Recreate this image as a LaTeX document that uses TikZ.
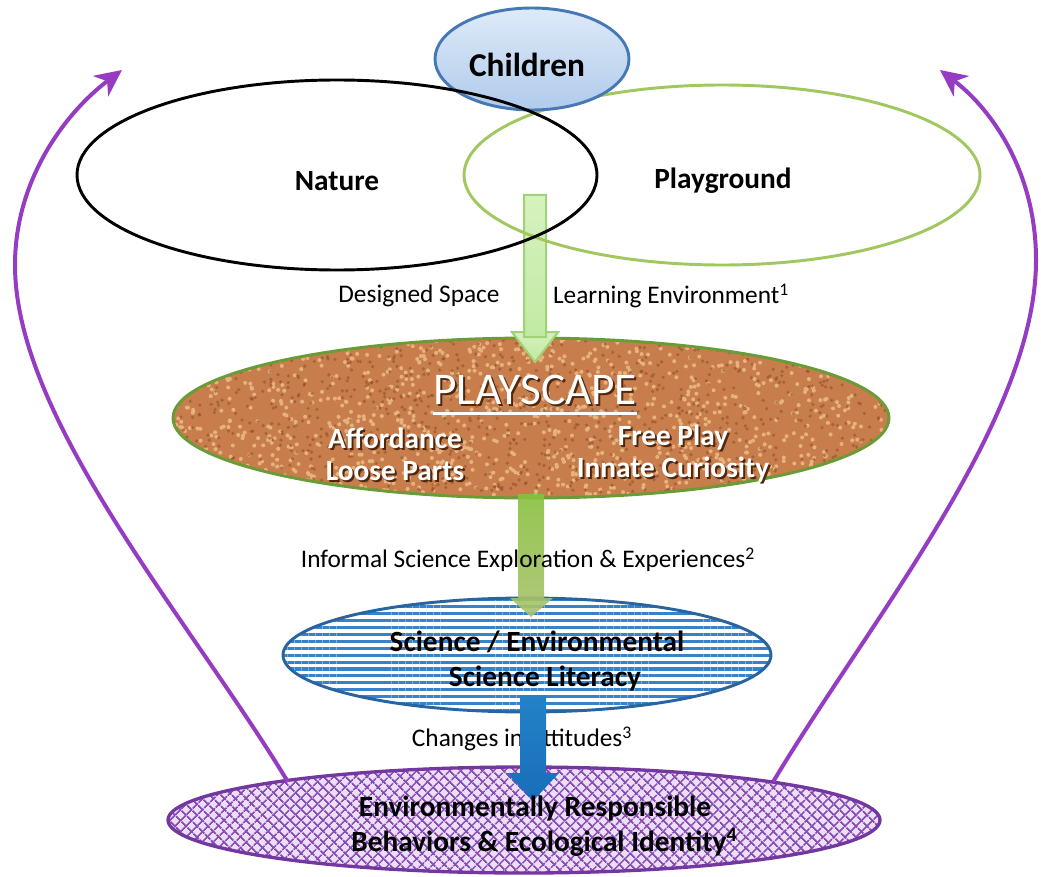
\documentclass[tikz,border=0pt]{standalone}
\usepackage{fontspec}
\setmainfont{Carlito}
\usetikzlibrary{patterns.meta,arrows.meta,calc}

\definecolor{kidtop}{RGB}{222,234,248}
\definecolor{kidbot}{RGB}{176,203,236}
\definecolor{kidborder}{RGB}{70,120,180}
\definecolor{pgreen}{RGB}{160,200,95}
\definecolor{brownfill}{RGB}{200,126,76}
\definecolor{brownlight}{RGB}{232,178,126}
\definecolor{browndark}{RGB}{140,76,38}
\definecolor{psborder}{RGB}{105,155,55}
\definecolor{sciblue}{RGB}{55,130,200}
\definecolor{sciborder}{RGB}{40,100,160}
\definecolor{purp}{RGB}{150,60,195}
\definecolor{purpline}{RGB}{135,75,180}
\definecolor{purpfill}{RGB}{236,222,246}
\definecolor{purpborder}{RGB}{115,55,160}
\definecolor{lgtop}{RGB}{214,242,190}
\definecolor{lgbot}{RGB}{190,232,160}
\definecolor{lgborder}{RGB}{160,210,120}
\definecolor{argtop}{RGB}{135,192,60}
\definecolor{argbot}{RGB}{170,195,110}
\definecolor{arbtop}{RGB}{35,130,200}
\definecolor{arbbot}{RGB}{25,110,185}
\definecolor{shadowbrown}{RGB}{80,40,15}

\tikzset{
  lbl/.style={inner sep=0pt, font=\fontsize{19}{23}\selectfont, text=black},
  blbl/.style={inner sep=0pt, font=\bfseries\fontsize{22}{26}\selectfont, text=black, align=center},
  wlbl/.style={inner sep=0pt, font=\bfseries\fontsize{22}{24}\selectfont, text=white, align=center},
  slbl/.style={inner sep=0pt, font=\bfseries\fontsize{22}{24}\selectfont, text=shadowbrown, align=center},
  purparrow/.style={draw=purp, line width=3pt, -{Stealth[length=20pt, width=19pt, inset=6pt]}},
}

\begin{document}
\begin{tikzpicture}[x=0.75pt,y=-0.75pt]
\path[use as bounding box, fill=white] (0,0) rectangle (1041,877);

% ---------- light green arrow (under the outlines)
\shade[top color=lgtop, bottom color=lgbot, draw=lgborder, line width=1.5]
  (524,195) -- (546,195) -- (546,332) -- (558,332) -- (535,362) -- (512,332) -- (524,332) -- cycle;

% ---------- top ellipses
\draw[pgreen, line width=2.2] (722,175) ellipse [x radius=258, y radius=90];
\shade[top color=kidtop, bottom color=kidbot, draw=kidborder, line width=2.2]
  (532,59) ellipse [x radius=97, y radius=51];
\draw[black, line width=2.2] (337,175) ellipse [x radius=260, y radius=95];

\node[blbl, font=\bfseries\fontsize{25}{28}\selectfont] (children) at (527,65) {Children};
\node[blbl] (nature) at (337,181) {Nature};
\node[blbl] (playground) at (723,181) {Playground};

\node[lbl] (designed) at (419,296) {Designed Space};
\node[lbl] (learning) at (671,296) {Learning Environment\textsuperscript{1}};

% ---------- playscape ellipse with texture
\begin{scope}
  \clip (531,418) ellipse [x radius=358, y radius=80];
  \fill[brownfill] (170,335) rectangle (892,500);
  \pgfmathsetseed{7}
  \foreach \i in {1,...,1100}{
    \pgfmathsetmacro{\px}{173+716*rnd}
    \pgfmathsetmacro{\py}{338+162*rnd}
    \fill[brownlight] (\px,\py) circle[radius=2];
  }
  \foreach \i in {1,...,1000}{
    \pgfmathsetmacro{\px}{173+716*rnd}
    \pgfmathsetmacro{\py}{338+162*rnd}
    \fill[browndark, opacity=0.55] (\px,\py) circle[radius=1.8];
  }
\end{scope}
\draw[psborder, line width=2.2] (531,418) ellipse [x radius=358, y radius=80];

% light green arrow tip shows over the playscape
\shade[top color=lgtop, bottom color=lgbot, draw=lgborder, line width=1.5]
  (524,337) -- (546,337) -- (546,332) -- (558,332) -- (535,362) -- (512,332) -- (524,332) -- cycle;

% playscape texts (shadow + white)
\node[inner sep=0pt, font=\fontsize{34}{38}\selectfont, text=shadowbrown] (titlesh) at (537,392) {PLAYSCAPE};
\node[inner sep=0pt, font=\fontsize{34}{38}\selectfont, text=white] (title) at (535,390) {PLAYSCAPE};
\draw[white, line width=2.2] ([yshift=-7pt]title.base west) -- ([yshift=-7pt]title.base east);

\node[slbl] (affsh) at (397,456) {Affordance\\Loose Parts};
\node[wlbl] (aff) at (395,454) {Affordance\\Loose Parts};
\node[slbl] (freesh) at (675,456) {Free Play\\Innate Curiosity};
\node[wlbl] (free) at (673,454) {Free Play\\Innate Curiosity};

% ---------- science ellipse
\fill[white] (527,655) ellipse [x radius=244, y radius=57];
\fill[pattern={Lines[angle=0, distance=5.2pt, line width=2.3pt]}, pattern color=sciblue]
  (527,655) ellipse [x radius=244, y radius=57];
\draw[sciborder, line width=2.2] (527,655) ellipse [x radius=244, y radius=57];

% ---------- green arrow
\shade[top color=argtop, bottom color=argbot, fill opacity=0.9]
  (518,494) -- (544,494) -- (544,598) -- (553,598) -- (531,617) -- (510,598) -- (518,598) -- cycle;
\node[lbl] (informal) at (528,560) {Informal Science Exploration \& Experiences\textsuperscript{2}};

\node[blbl, align=center] (science) at (537,661) {Science / Environmental\\[0pt]\hspace*{12pt}Science Literacy};

% ---------- bottom ellipse
\fill[purpfill] (524,820) ellipse [x radius=356, y radius=53];
\fill[pattern={Lines[angle=45, distance=6.5pt, line width=1.5pt]}, pattern color=purpline]
  (524,820) ellipse [x radius=356, y radius=53];
\fill[pattern={Lines[angle=-45, distance=6.5pt, line width=1.5pt]}, pattern color=purpline]
  (524,820) ellipse [x radius=356, y radius=53];
\draw[purpborder, line width=2.5] (524,820) ellipse [x radius=356, y radius=53];

\node[lbl] (changes) at (522,739) {Changes in Attitudes\textsuperscript{3}};

% ---------- blue arrow
\shade[top color=arbtop, bottom color=arbbot]
  (520,695) -- (546,695) -- (546,773) -- (559,773) -- (533,801) -- (507,773) -- (520,773) -- cycle;

\node[blbl] (behav) at (535,826) {Environmentally Responsible\\[0pt]\hspace*{14pt}Behaviors \& Ecological Identity\textsuperscript{4}};

% ---------- purple feedback arrows
\coordinate (lstart) at (288,782);
\coordinate (lmid) at (15,265);
\coordinate (ltip) at (122,70);
\coordinate (rstart) at (773,782);
\coordinate (rmid) at (1036,260);
\coordinate (rtip) at (940,70);
\draw[purparrow] (lstart) .. controls (190,620) and (15,420) .. (lmid)
  .. controls (15,180) and (65,113) .. (ltip);
\draw[purparrow] (rstart) .. controls (870,620) and (1036,420) .. (rmid)
  .. controls (1036,170) and (990,108) .. (rtip);
\end{tikzpicture}
\end{document}
